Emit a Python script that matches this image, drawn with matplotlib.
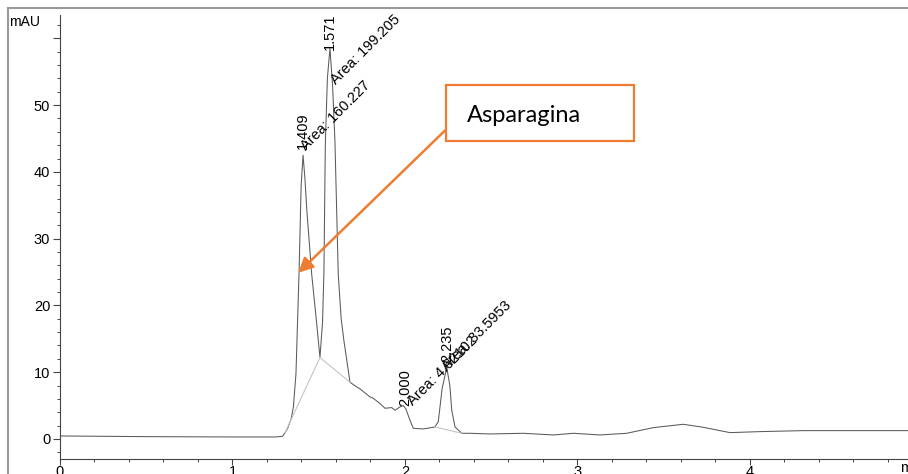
import matplotlib.pyplot as plt
from matplotlib.lines import Line2D
from matplotlib.patches import Rectangle
from matplotlib.ticker import MultipleLocator

plt.rcParams['font.family'] = ['Liberation Sans', 'DejaVu Sans']

# chromatogram trace (min, mAU)
time = [0.0, 0.5, 1.0, 1.25, 1.29, 1.304, 1.32, 1.34, 1.353, 1.368, 1.386, 1.398,
        1.409, 1.42, 1.43, 1.459, 1.488, 1.507, 1.522, 1.530, 1.538, 1.55, 1.565,
        1.58, 1.594, 1.613, 1.63, 1.646, 1.681, 1.72, 1.739, 1.797, 1.816, 1.855,
        1.884, 1.923, 1.942, 1.971, 1.99, 2.005, 2.029, 2.048, 2.106, 2.174, 2.193,
        2.215, 2.242, 2.26, 2.271, 2.29, 2.329, 2.377, 2.49, 2.686, 2.86, 2.976,
        3.13, 3.285, 3.44, 3.613, 3.729, 3.884, 4.058, 4.31, 4.92]
signal = [0.45, 0.35, 0.3, 0.3, 0.4, 0.9, 1.6, 3.0, 4.8, 9.8, 25.1, 38.0,
          42.5, 39.0, 34.6, 24.7, 17.3, 12.2, 17.5, 25.0, 44.0, 54.0, 58.5,
          53.0, 44.5, 24.7, 18.0, 14.7, 8.5, 7.8, 7.5, 6.3, 6.1, 5.3,
          4.6, 4.7, 4.3, 4.8, 5.0, 4.5, 2.8, 1.6, 1.5, 1.8, 2.6,
          7.5, 10.7, 8.0, 4.3, 1.8, 0.85, 0.85, 0.75, 0.85, 0.6, 0.85,
          0.6, 0.85, 1.7, 2.2, 1.75, 0.95, 1.1, 1.25, 1.25]

# integration baselines
base_segments = [
    ([1.304, 1.507], [0.9, 12.2]),
    ([1.507, 1.681], [12.2, 8.5]),
    ([2.174, 2.329], [1.8, 0.85]),
]

# peak labels: retention time, label anchor, area text, area anchor
peak_rt = ['1.409', '1.571', '2.000', '2.235']
rt_pos = [(1.410, 43.4), (1.566, 58.3), (2.0, 5.0), (2.245, 11.5)]
peak_area = ['Area: 160.227', 'Area: 199.205', 'Area: 4.62102', 'Area: 33.5953']
area_pos = [(1.425, 43.2), (1.598, 53.0), (2.045, 4.9), (2.245, 10.2)]

fig = plt.figure(figsize=(9.08, 4.74), dpi=100)
ax = fig.add_axes([60 / 908, 15 / 474, 848 / 908, 444 / 474])

ax.plot(time, signal, color='#5a5a5a', lw=0.75)
for xs, ys in base_segments:
    ax.plot(xs, ys, color='#c4c4c4', lw=0.8)

for lab, (x, y) in zip(peak_rt, rt_pos):
    ax.text(x, y, lab, rotation=90, ha='center', va='bottom', fontsize=10.5)
for lab, (x, y) in zip(peak_area, area_pos):
    ax.text(x, y, lab, rotation=45, ha='left', va='baseline',
            rotation_mode='anchor', fontsize=10.5)

ax.set_xlim(0, 4.916)
ax.set_ylim(-3, 63.5)
ax.spines['top'].set_visible(False)
ax.spines['right'].set_visible(False)
for s in ['left', 'bottom']:
    ax.spines[s].set_color('#444444')
    ax.spines[s].set_linewidth(0.8)

ax.xaxis.set_major_locator(MultipleLocator(1))
ax.xaxis.set_minor_locator(MultipleLocator(0.2))
ax.yaxis.set_major_locator(MultipleLocator(10))
ax.yaxis.set_minor_locator(MultipleLocator(2))
ax.set_yticks([0, 10, 20, 30, 40, 50, 60])
ax.set_yticklabels(['0', '10', '20', '30', '40', '50', ''])
ax.tick_params(which='major', length=5, width=0.8, color='#444444', labelsize=10.5, pad=2)
ax.tick_params(which='minor', length=2.5, width=0.7, color='#444444')
ax.tick_params(axis='x', which='major', length=4, pad=0.5)
ax.text(4.87, -3.3, 'min', ha='left', va='top', fontsize=10.5,
        transform=ax.transData, clip_on=False)

fig.text(9 / 908, 1 - 22 / 474, 'mAU', ha='left', va='center', fontsize=10)

# callout box and arrow
orange = '#ED7D31'
ax.add_patch(Rectangle((2.238, 44.6), 1.09, 8.48, fill=False, edgecolor=orange,
                       lw=1.6, clip_on=False, zorder=5))
ax.text(2.359, 47.5, 'Asparagina', family=['Lato', 'DejaVu Sans'], fontsize=17,
        ha='left', va='baseline', zorder=6)
ax.annotate('', xy=(1.382, 24.9), xytext=(2.232, 46.2),
            arrowprops=dict(arrowstyle='-|>', color=orange, lw=1.8,
                            mutation_scale=22, shrinkA=0, shrinkB=0))

# scan frame
fig.add_artist(Line2D([8 / 908, 8 / 908], [0, 1 - 8 / 474], color='#999999', lw=1.5))
fig.add_artist(Line2D([8 / 908, 1], [1 - 8 / 474, 1 - 8 / 474], color='#999999', lw=1.5))

fig.savefig('out.png', dpi=100)
